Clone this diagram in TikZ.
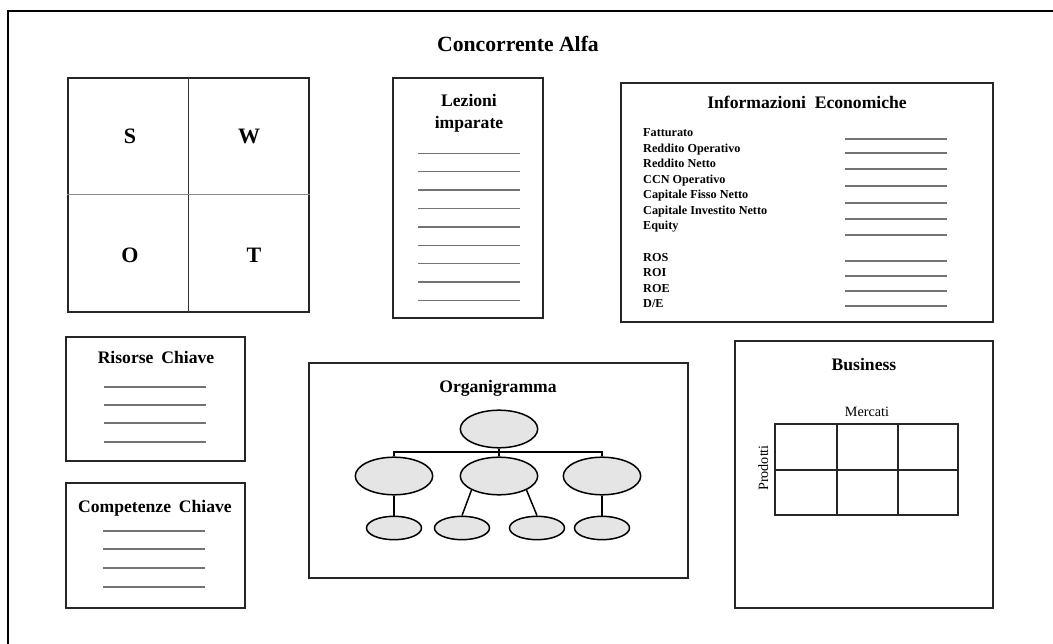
\documentclass[tikz,border=0pt]{standalone}
\usepackage{fontspec}
\setmainfont{Liberation Serif}
\usetikzlibrary{shapes.geometric}
\begin{document}
\begin{tikzpicture}[x=1pt,y=-1pt,
  panel/.style={draw=black!85, line width=2pt, inner sep=0pt, fill=white},
  ttl/.style={font=\fontsize{17.6}{20}\selectfont\bfseries, inner sep=0pt, anchor=base},
  bigl/.style={font=\fontsize{22}{24}\selectfont\bfseries, inner sep=0pt, anchor=base},
  lbl/.style={font=\fontsize{12.2}{14}\selectfont\bfseries, inner sep=0pt, anchor=base west},
  axis/.style={font=\fontsize{14.2}{16}\selectfont, inner sep=0pt, anchor=base},
  rule/.style={draw=black!55, line width=1.3pt},
  gridline/.style={draw=black!85, line width=1.1pt},
  org/.style={ellipse, draw=black, line width=1.5pt, fill=black!10, inner sep=0pt},
  link/.style={draw=black, line width=1.5pt},
]
\useasboundingbox (0,0) rectangle (1053,644);
\fill[white] (0,0) rectangle (1053,644);

% outer frame
\draw[line width=1.5pt] (8,644) -- (8,11) -- (1053,11);

% heading
\node[font=\fontsize{21.7}{24}\selectfont\bfseries, inner sep=0pt, anchor=base] (title) at (518,52) {Concorrente Alfa};

% SWOT matrix
\node[panel, minimum width=241pt, minimum height=234pt] (swot) at (188.5,195) {};
\draw[draw=black!80, line width=0.9pt] (swot.north) -- (swot.south);
\draw[draw=black!45, line width=1pt] (swot.west) -- (swot.east);
\node[bigl] (s) at (130,144) {S};
\node[bigl] (w) at (249,144) {W};
\node[bigl] (o) at (130,263) {O};
\node[bigl] (t) at (254,263) {T};

% lessons learned
\node[panel, minimum width=150pt, minimum height=240pt] (lez) at (468,198) {};
\node[ttl] (lez1) at (469,107) {Lezioni};
\node[ttl] (lez2) at (469,129) {imparate};
\foreach \y in {153.3,171.7,190.1,208.5,226.9,245.3,263.7,282.1,300.5}
  \draw[rule] (418,\y) -- (520,\y);

% economic data
\node[panel, minimum width=372pt, minimum height=239pt] (info) at (807,202.5) {};
\node[ttl] (infot) at (807,109) {Informazioni\hspace{0.5em}Economiche};
\foreach \t [count=\i from 0] in {Fatturato,Reddito Operativo,Reddito Netto,CCN Operativo,Capitale Fisso Netto,Capitale Investito Netto,Equity}
  \node[lbl] (kpi\i) at (643,137+15.5*\i) {\t};
\foreach \t [count=\i from 0] in {ROS,ROI,ROE,D/E}
  \node[lbl] (ratio\i) at (643,261.5+15.5*\i) {\t};
\foreach \y in {139,153,169,186,203,219,235,261,276,291,306}
  \draw[rule] (845,\y) -- (947,\y);

% key resources
\node[panel, minimum width=179pt, minimum height=124pt] (ris) at (155.5,399) {};
\node[ttl] (rist) at (156,364) {Risorse\hspace{0.45em}Chiave};
\foreach \y in {387,405,423,442}
  \draw[rule] (104,\y) -- (206,\y);

% key competences
\node[panel, minimum width=179pt, minimum height=125pt] (comp) at (155.5,545.5) {};
\node[ttl] (compt) at (155,512) {Competenze\hspace{0.45em}Chiave};
\foreach \y in {531,549,568,587}
  \draw[rule] (103,\y) -- (205,\y);

% organisation chart
\node[panel, minimum width=379pt, minimum height=215pt] (orgbox) at (498.5,470.5) {};
\node[ttl] (orgt) at (498,393) {Organigramma};
\node[org, minimum width=77.4pt, minimum height=37.6pt] (o0) at (499,429) {};
\node[org, minimum width=77.4pt, minimum height=37.6pt] (o1) at (394,476) {};
\node[org, minimum width=77.4pt, minimum height=37.6pt] (o2) at (499,476) {};
\node[org, minimum width=77.4pt, minimum height=37.6pt] (o3) at (602,476) {};
\node[org, minimum width=55pt, minimum height=23.4pt] (p1) at (394,528) {};
\node[org, minimum width=55pt, minimum height=23.4pt] (p2) at (462,528) {};
\node[org, minimum width=55pt, minimum height=23.4pt] (p3) at (537,528) {};
\node[org, minimum width=55pt, minimum height=23.4pt] (p4) at (602,528) {};
\coordinate (bar) at (499,452);
\draw[link] (o0.south) -- (bar);
\draw[link] (o1.north) |- (bar) -| (o3.north);
\draw[link] (bar) -- (o2.north);
\draw[link] (o1.south) -- (p1.north);
\draw[link] (o2.-153) -- (p2.north);
\draw[link] (o2.-27) -- (p3.north);
\draw[link] (o3.south) -- (p4.north);

% business portfolio
\node[panel, minimum width=258pt, minimum height=267pt] (bus) at (864,474.5) {};
\node[ttl] (bust) at (864,371) {Business};
\node[axis] (merc) at (867,417) {Mercati};
\node[axis, rotate=90] (prod) at (768,468) {Prodotti};
\draw[gridline] (775,424) rectangle (958,515);
\draw[gridline] (837,424) -- (837,515);
\draw[gridline] (898,424) -- (898,515);
\draw[gridline] (775,470) -- (958,470);
\end{tikzpicture}
\end{document}
